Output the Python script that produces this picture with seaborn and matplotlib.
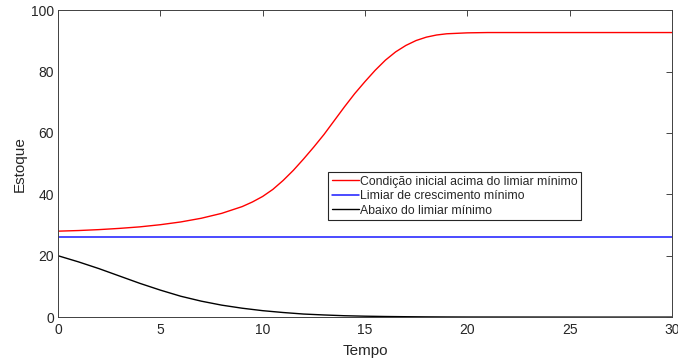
import pandas as pd
import numpy as np
import matplotlib as mpl
from matplotlib import pyplot as plt
import seaborn as sns

# valores
tempo_acima = [0, 1, 2, 3, 4, 5, 6, 7, 8, 9, 9.5, 10, 10.5, 11, 11.5, 12, 12.5, 13, 13.5,
               14, 14.5, 15, 15.5, 16, 16.5, 17, 17.5, 18, 18.5, 19, 20, 21, 22, 24, 26, 28, 30]
estoque_acima = [28.0, 28.2, 28.5, 28.9, 29.4, 30.1, 31.0, 32.2, 33.8, 36.0, 37.5, 39.3, 41.6,
                 44.5, 47.8, 51.5, 55.4, 59.5, 64.0, 68.5, 72.8, 76.7, 80.4, 83.7, 86.4, 88.5,
                 90.1, 91.2, 91.9, 92.3, 92.6, 92.7, 92.7, 92.7, 92.7, 92.7, 92.7]

tempo_limiar = [0, 30]
estoque_limiar = [26.1, 26.1]

tempo_abaixo = [0, 1, 2, 3, 4, 5, 6, 7, 8, 9, 10, 11, 12, 13, 14, 15, 16, 17, 18, 19, 20,
                22, 24, 26, 28, 30]
estoque_abaixo = [20.0, 18.0, 15.8, 13.4, 11.0, 8.8, 6.8, 5.2, 3.9, 2.9, 2.1, 1.5, 1.0, 0.7,
                  0.45, 0.3, 0.2, 0.13, 0.08, 0.05, 0.03, 0.02, 0.01, 0.0, 0.0, 0.0]

sns.set_theme(style='white')
plt.rcParams['font.family'] = ['Liberation Sans', 'DejaVu Sans']

fig = plt.figure(figsize=(6.78, 3.62), dpi=100)
ax = fig.add_axes([0.0855, 0.124, 0.9055, 0.848])

sns.lineplot(x=tempo_acima, y=estoque_acima, color='#ff0000', lw=1,
             label='Condição inicial acima do limiar mínimo', ax=ax)
sns.lineplot(x=tempo_limiar, y=estoque_limiar, color='#1a1aff', lw=1.1,
             label='Limiar de crescimento mínimo', ax=ax)
sns.lineplot(x=tempo_abaixo, y=estoque_abaixo, color='#000000', lw=1,
             label='Abaixo do limiar mínimo', ax=ax)

ax.set_xlim(0, 30)
ax.set_ylim(0, 100)
ax.set_xticks([0, 5, 10, 15, 20, 25, 30])
ax.set_yticks([0, 20, 40, 60, 80, 100])
ax.set_xlabel('Tempo', fontsize=11, color='#262626', labelpad=5)
ax.set_ylabel('Estoque', fontsize=11, color='#262626', labelpad=3)
ax.tick_params(direction='in', length=4, width=0.6, top=True, right=True,
               labelsize=10, colors='#262626', pad=3)
ax.tick_params(axis='x', pad=4)
for s in ax.spines.values():
    s.set_color('#404040')
    s.set_linewidth(0.7)

leg = ax.legend(loc='upper left', bbox_to_anchor=(328 / 678, 1 - 172 / 362),
                bbox_transform=fig.transFigure, fontsize=8.8, frameon=True,
                fancybox=False, framealpha=1, edgecolor='#262626', borderpad=0.3,
                handlelength=2.2, handletextpad=0.1, labelspacing=0.2,
                borderaxespad=0)
leg.get_frame().set_linewidth(0.8)

plt.savefig('out.png', dpi=100)
